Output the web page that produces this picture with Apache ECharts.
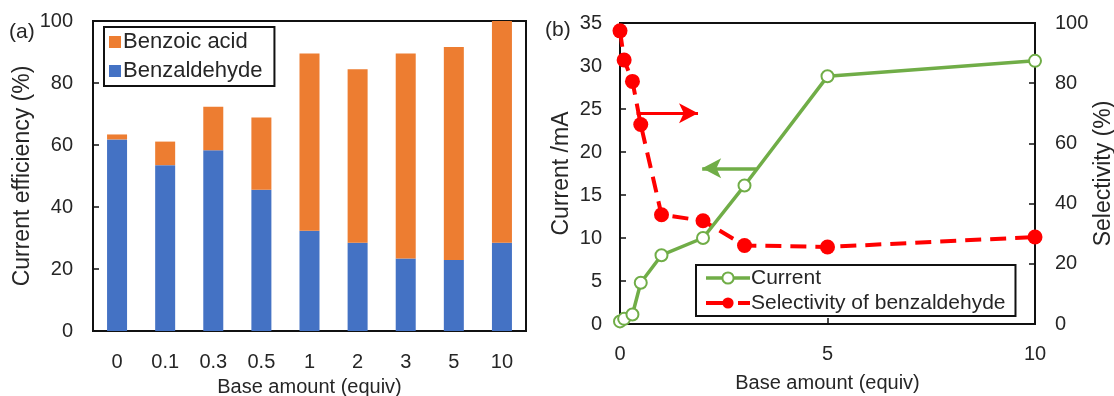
<!DOCTYPE html>
<html>
<head>
<meta charset="utf-8">
<script src="https://cdn.jsdelivr.net/npm/echarts@6/dist/echarts.min.js"></script>
<style>
html,body{margin:0;padding:0;background:#fff;}
#c{width:1114px;height:396px;}
</style>
</head>
<body>
<div id="c"></div>
<script>
// ---- Panel (a) data ----
const categories = ['0', '0.1', '0.3', '0.5', '1', '2', '3', '5', '10'];
const benzaldehyde = [61.8, 53.5, 58.3, 45.6, 32.3, 28.5, 23.4, 22.9, 28.5];
const benzoicAcid = [1.6, 7.6, 14.0, 23.3, 57.2, 55.9, 66.1, 68.7, 71.5];
const effTicks = [0, 20, 40, 60, 80, 100];

// ---- Panel (b) data ----
const baseAmount = [0, 0.1, 0.3, 0.5, 1, 2, 3, 5, 10];
const current = [0.3, 0.6, 1.1, 4.8, 8.0, 10.0, 16.1, 28.8, 30.6];
const selectivity = [97.4, 87.7, 80.6, 66.3, 36.3, 34.3, 26.1, 25.6, 28.9];
// arrow annotations: [x start, x end, y]
const selArrow = [0.4, 1.88, 70];
const curArrow = [3.28, 1.98, 18.1];

const FONT = 'Liberation Sans, Arial, sans-serif';
const TXT = '#262626';
const ORANGE = '#ED7D31', BLUE = '#4472C4', GREEN = '#70AD47', RED = '#FF0000';

const chart = echarts.init(document.getElementById('c'), null, {renderer: 'canvas'});

const tickLab = {color: TXT, fontSize: 20, fontFamily: FONT};
const nameH = {color: TXT, fontSize: 20, fontFamily: FONT};
const nameV = {color: TXT, fontSize: 23, fontFamily: FONT};

const option = {
  backgroundColor: '#fff',
  animation: false,
  textStyle: {fontFamily: FONT},
  grid: [
    {left: 93, right: 588, top: 21, bottom: 65, show: true, borderColor: '#111', borderWidth: 2,
     containLabel: false, outerBoundsMode: 'none'},
    {left: 620, right: 79, top: 23, bottom: 72, show: true, borderColor: '#111', borderWidth: 2,
     containLabel: false, outerBoundsMode: 'none'}
  ],
  legend: [
    {
      data: ['Benzoic acid', 'Benzaldehyde'],
      orient: 'vertical', left: 104, top: 27,
      itemWidth: 12, itemHeight: 12, itemGap: 7, icon: 'rect',
      borderColor: '#111', borderWidth: 2, padding: [4, 12, 4, 5],
      textStyle: {color: TXT, fontSize: 22, fontFamily: FONT, lineHeight: 22, padding: [0, 0, 0, -3]}
    },
    {
      data: [
        {name: 'Current', lineStyle: {width: 3.5}},
        {name: 'Selectivity of benzaldehyde', lineStyle: {type: [22, 10], width: 4}}
      ],
      orient: 'vertical', left: 696, top: 265,
      itemWidth: 44, itemHeight: 14, itemGap: 3,
      borderColor: '#111', borderWidth: 2, padding: [2, 10, 2, 8],
      textStyle: {color: TXT, fontSize: 21, fontFamily: FONT, lineHeight: 22, padding: [0, 0, 0, -4]}
    }
  ],
  xAxis: [
    {
      type: 'category', gridIndex: 0, data: categories,
      axisLine: {lineStyle: {color: '#111', width: 2}},
      axisTick: {show: false},
      axisLabel: Object.assign({margin: 21}, tickLab),
      name: 'Base amount (equiv)', nameLocation: 'middle', nameGap: 46,
      nameTextStyle: nameH
    },
    {
      type: 'value', gridIndex: 1, min: 0, max: 10, interval: 5,
      axisLine: {lineStyle: {color: '#111', width: 2}},
      axisTick: {inside: true, length: 6, lineStyle: {color: '#111', width: 1.5}},
      axisLabel: Object.assign({margin: 20}, tickLab),
      splitLine: {show: false},
      name: 'Base amount (equiv)', nameLocation: 'middle', nameGap: 49,
      nameTextStyle: nameH
    }
  ],
  yAxis: [
    {
      type: 'value', gridIndex: 0, min: 0, max: 100, interval: 20,
      axisLine: {show: true, lineStyle: {color: '#111', width: 2}},
      axisTick: {show: true, inside: true, length: 6, lineStyle: {color: '#111', width: 1.5}},
      axisLabel: Object.assign({margin: 20, formatter: v => effTicks.includes(v) ? String(v) : ''}, tickLab),
      splitLine: {show: false},
      name: 'Current efficiency (%)', nameLocation: 'middle', nameGap: 59,
      nameTextStyle: nameV
    },
    {
      type: 'value', gridIndex: 1, min: 0, max: 35, interval: 5,
      axisLine: {show: true, lineStyle: {color: '#111', width: 2}},
      axisTick: {show: true, inside: true, length: 6, lineStyle: {color: '#111', width: 1.5}},
      axisLabel: Object.assign({margin: 18}, tickLab),
      splitLine: {show: false},
      name: 'Current /mA', nameLocation: 'middle', nameGap: 47,
      nameTextStyle: nameV
    },
    {
      type: 'value', gridIndex: 1, min: 0, max: 100, interval: 20, position: 'right',
      axisLine: {show: true, lineStyle: {color: '#111', width: 2}},
      axisTick: {show: true, inside: true, length: 6, lineStyle: {color: '#111', width: 1.5}},
      axisLabel: Object.assign({margin: 20}, tickLab),
      splitLine: {show: false},
      name: 'Selectivity (%)', nameLocation: 'middle', nameGap: 50,
      nameTextStyle: nameV
    }
  ],
  series: [
    {
      name: 'Benzaldehyde', type: 'bar', stack: 'ce', xAxisIndex: 0, yAxisIndex: 0,
      data: benzaldehyde, barWidth: 20, itemStyle: {color: BLUE}
    },
    {
      name: 'Benzoic acid', type: 'bar', stack: 'ce', xAxisIndex: 0, yAxisIndex: 0,
      data: benzoicAcid, barWidth: 20, itemStyle: {color: ORANGE}
    },
    {
      name: 'Current', type: 'line', xAxisIndex: 1, yAxisIndex: 1, z: 4,
      data: baseAmount.map((x, i) => [x, current[i]]),
      symbol: 'emptyCircle', symbolSize: 12, clip: false,
      lineStyle: {color: GREEN, width: 3.5},
      itemStyle: {color: GREEN, borderColor: GREEN, borderWidth: 3},
      markLine: {
        silent: true, symbol: ['none', 'arrow'], symbolSize: [15, 19],
        label: {show: false},
        lineStyle: {color: GREEN, width: 3.5, type: 'solid'},
        data: [[{coord: [curArrow[0], curArrow[2]]}, {coord: [curArrow[1], curArrow[2]]}]]
      }
    },
    {
      name: 'Selectivity of benzaldehyde', type: 'line', xAxisIndex: 1, yAxisIndex: 2, z: 3,
      data: baseAmount.map((x, i) => [x, selectivity[i]]),
      symbol: 'circle', symbolSize: 15, clip: false,
      lineStyle: {color: RED, width: 4, type: [16, 9]},
      itemStyle: {color: RED},
      markLine: {
        silent: true, symbol: ['none', 'arrow'], symbolSize: [15, 19],
        label: {show: false},
        lineStyle: {color: RED, width: 3, type: 'solid'},
        data: [[{coord: [selArrow[0], selArrow[2]]}, {coord: [selArrow[1], selArrow[2]]}]]
      }
    }
  ],
  graphic: [
    {type: 'text', left: 9, top: 22, style: {text: '(a)', fontSize: 21, fontFamily: FONT, fill: TXT}},
    {type: 'text', left: 545, top: 20, style: {text: '(b)', fontSize: 21, fontFamily: FONT, fill: TXT}}
  ]
};
chart.setOption(option);
</script>
</body>
</html>
